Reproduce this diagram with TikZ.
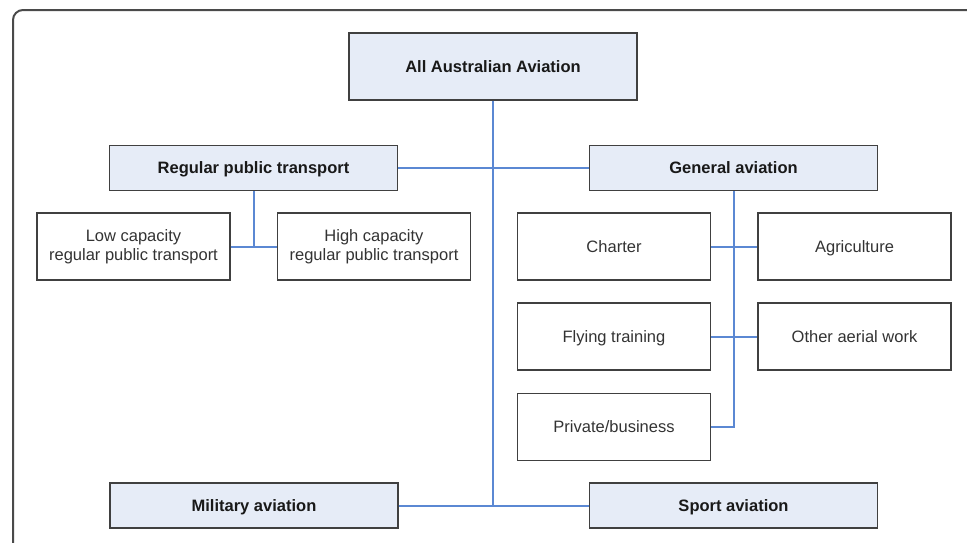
\documentclass[tikz,border=0pt]{standalone}
\usepackage{fontspec}
\setmainfont{Liberation Sans}
\usetikzlibrary{positioning}
\definecolor{boxfill}{HTML}{E6ECF7}
\definecolor{boxline}{HTML}{404040}
\definecolor{linkblue}{HTML}{5B88D3}
\definecolor{framegray}{HTML}{4A4A4A}

\begin{document}
\begin{tikzpicture}[x=1pt,y=-1pt,
  mainbox/.style={rectangle, draw=boxline, line width=1.4pt, fill=boxfill,
    minimum width=288pt, minimum height=45pt,
    text height=15.5pt, text depth=3.6pt,
    font=\fontsize{16.5}{19.5}\selectfont\bfseries, text=black!90},
  subbox/.style={rectangle, draw=boxline, line width=1.4pt, fill=white,
    minimum width=193pt, minimum height=67pt, align=center,
    font=\fontsize{16.5}{19.5}\selectfont, text=black!80},
  oneline/.style={text height=15.5pt, text depth=3.6pt},
  link/.style={draw=linkblue, line width=2pt}]
      \useasboundingbox (0,0) rectangle (967,542);
      \clip (0,0) rectangle (967,542);
      \draw[framegray, fill=white, line width=2pt, rounded corners=10pt] (13,10) rectangle (990,570);
      % top level
      \node[mainbox, minimum height=67pt] at (493,66.5) (all) {All Australian Aviation};
      \node[mainbox] at (253.5,168) (rpt) {Regular public transport};
      \node[mainbox] at (733.5,168) (ga) {General aviation};
      \node[mainbox] at (254,505.5) (mil) {Military aviation};
      \node[mainbox] at (733.5,505.5) (sport) {Sport aviation};
      % regular public transport
      \node[subbox] at (133.5,246.5) (low) {Low capacity\\regular public transport};
      \node[subbox] at (374,246.5) (high) {High capacity\\regular public transport};
      % general aviation
      \node[subbox, oneline] at (614,246.5) (charter) {Charter};
      \node[subbox, oneline] at (854.5,246.5) (agri) {Agriculture};
      \node[subbox, oneline] at (614,336.5) (flying) {Flying training};
      \node[subbox, oneline] at (854.5,336.5) (aerial) {Other aerial work};
      \node[subbox, oneline] at (614,427) (private) {Private/business};
      % links
      \draw[link] (all.south) -- (all.south |- mil.east);
      \draw[link] (rpt.east) -- (ga.west);
      \draw[link] (mil.east) -- (sport.west);
      \draw[link] (rpt.south) -- (rpt.south |- low.east);
      \draw[link] (low.east) -- (high.west);
      \draw[link] (ga.south) -- (ga.south |- private.east) -- (private.east);
      \draw[link] (charter.east) -- (agri.west);
      \draw[link] (flying.east) -- (aerial.west);
\end{tikzpicture}
\end{document}
